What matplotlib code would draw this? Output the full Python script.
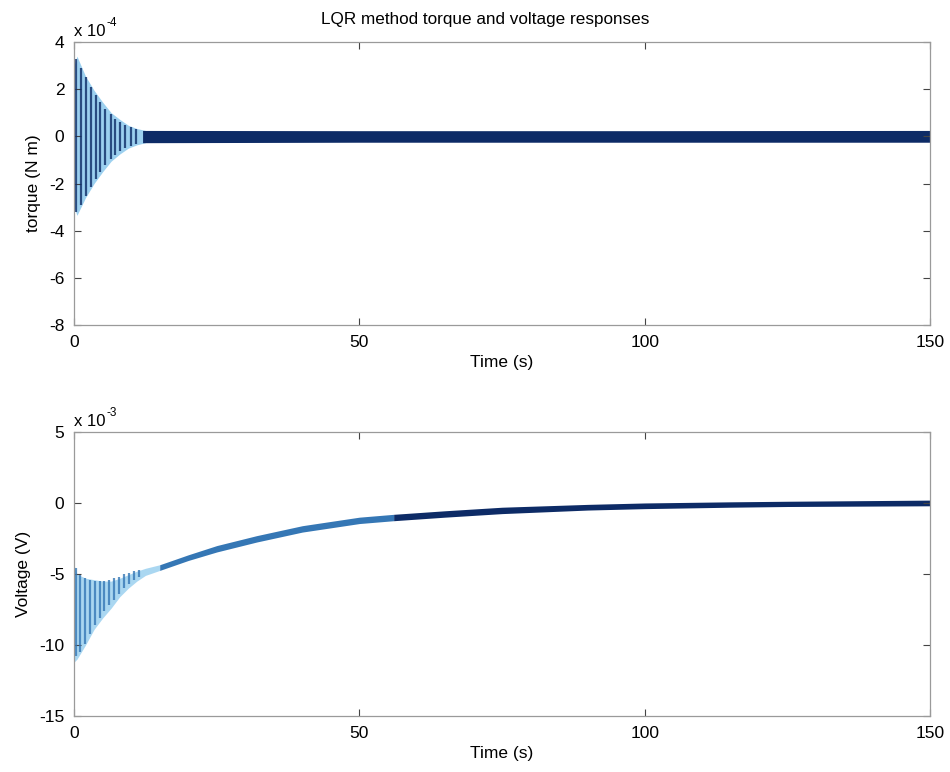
#!/usr/bin/env python3
"""LQR method torque and voltage responses (two stacked MATLAB-style panels)."""
import matplotlib
matplotlib.use("Agg")
import matplotlib.pyplot as plt

plt.rcParams["font.family"] = ["Liberation Sans", "DejaVu Sans"]
plt.rcParams["axes.unicode_minus"] = False

# ---- torque (units of 1e-4 N m) ----
torque_decay_t = [0, 0.5, 2, 3.5, 5, 6.5, 8, 9.5, 11, 12.5]
torque_decay_hi = [3.0, 3.4, 2.55, 1.95, 1.45, 1.0, 0.72, 0.47, 0.33, 0.25]
torque_decay_lo = [-3.0, -3.35, -2.6, -2.0, -1.5, -1.05, -0.75, -0.5, -0.36, -0.27]
torque_stripe_t = [0.3, 1.2, 2.0, 2.9, 3.8, 4.6, 5.5, 6.4, 7.2, 8.1, 9.0, 9.9, 10.8]
torque_stripe_hi = [3.3, 2.9, 2.5, 2.1, 1.75, 1.45, 1.15, 0.95, 0.75, 0.6, 0.48, 0.38, 0.3]
torque_stripe_lo = [-3.2, -2.9, -2.55, -2.15, -1.8, -1.5, -1.2, -0.98, -0.78, -0.62, -0.5, -0.4, -0.32]
torque_steady_t = [12, 50, 100, 150]
torque_steady_hi = [0.25, 0.24, 0.24, 0.25]
torque_steady_lo = [-0.27, -0.25, -0.25, -0.25]

# ---- voltage (units of 1e-3 V) ----
volt_decay_t = [0, 0.5, 2, 3.5, 5, 6.5, 8, 9.5, 11, 12.5, 15]
volt_decay_hi = [-4.4, -5.0, -5.3, -5.4, -5.5, -5.5, -5.3, -5.05, -4.8, -4.6, -4.35]
volt_decay_lo = [-11.2, -11.0, -10.0, -8.9, -8.1, -7.4, -6.6, -6.0, -5.5, -5.1, -4.75]
volt_stripe_t = [0.3, 1.1, 1.9, 2.8, 3.6, 4.5, 5.3, 6.2, 7.0, 7.9, 8.8, 9.6, 10.5, 11.4]
volt_stripe_hi = [-4.6, -5.1, -5.3, -5.4, -5.5, -5.5, -5.5, -5.4, -5.3, -5.2, -5.0, -4.9, -4.8, -4.7]
volt_stripe_lo = [-10.8, -10.5, -9.9, -9.2, -8.6, -8.1, -7.6, -7.2, -6.8, -6.4, -6.0, -5.7, -5.4, -5.2]
volt_mid_t = [15, 20, 25, 32, 40, 50, 56]
volt_mid_hi = [-4.35, -3.65, -3.0, -2.3, -1.6, -1.0, -0.8]
volt_mid_lo = [-4.75, -4.05, -3.45, -2.75, -2.05, -1.45, -1.25]
volt_tail_t = [56, 65, 75, 90, 100, 115, 125, 150]
volt_tail_hi = [-0.8, -0.55, -0.3, -0.1, 0.0, 0.08, 0.12, 0.2]
volt_tail_lo = [-1.25, -1.0, -0.75, -0.5, -0.4, -0.3, -0.25, -0.2]

LIGHT = "#72bde9"
MID = "#3577b5"
NAVY = "#0d2b66"


def style_axes(ax, ylim, yticks, ylabel, exponent):
    ax.set_xlim(0, 150)
    ax.set_ylim(*ylim)
    ax.set_xticks([0, 50, 100, 150])
    ax.set_yticks(yticks)
    ax.tick_params(direction="in", length=5, width=0.8, labelsize=12.5,
                   top=True, right=True, pad=7, colors="#444444", labelcolor="black")
    for sp in ax.spines.values():
        sp.set_color("#9a9a9a")
        sp.set_linewidth(0.9)
    ax.set_xlabel("Time (s)", fontsize=12.5, labelpad=4)
    ax.set_ylabel(ylabel, fontsize=12.5, labelpad=6)
    # MATLAB-style exponent label above the top-left corner
    ax.text(0.0, 1.012, "x 10", transform=ax.transAxes,
            fontsize=12, ha="left", va="bottom")
    ax.annotate(str(exponent), xy=(0.0, 1.012), xycoords="axes fraction",
                xytext=(23.5, 7), textcoords="offset points",
                fontsize=8.5, ha="left", va="bottom")


fig = plt.figure(figsize=(9.5, 7.72), dpi=100)
ax1 = fig.add_axes([0.078, 0.579, 0.901, 0.3666])
ax2 = fig.add_axes([0.078, 0.0725, 0.901, 0.368])

# torque panel
ax1.fill_between(torque_decay_t, torque_decay_lo, torque_decay_hi, color=LIGHT, alpha=0.7, lw=0)
ax1.vlines(torque_stripe_t, torque_stripe_lo, torque_stripe_hi, color=NAVY, lw=1.6, alpha=0.8)
ax1.fill_between(torque_steady_t, torque_steady_lo, torque_steady_hi, color=NAVY, lw=0)
style_axes(ax1, (-8, 4), [-8, -6, -4, -2, 0, 2, 4], "torque (N m)", -4)
ax1.set_title("LQR method torque and voltage responses", fontsize=12.3, pad=13, x=0.48)

# voltage panel
ax2.fill_between(volt_decay_t, volt_decay_lo, volt_decay_hi, color=LIGHT, alpha=0.6, lw=0)
ax2.vlines(volt_stripe_t, volt_stripe_lo, volt_stripe_hi, color=MID, lw=1.6, alpha=0.8)
ax2.fill_between(volt_mid_t, volt_mid_lo, volt_mid_hi, color=MID, lw=0)
ax2.fill_between(volt_tail_t, volt_tail_lo, volt_tail_hi, color=NAVY, lw=0)
style_axes(ax2, (-15, 5), [-15, -10, -5, 0, 5], "Voltage (V)", -3)

fig.savefig("out.png", dpi=100)
